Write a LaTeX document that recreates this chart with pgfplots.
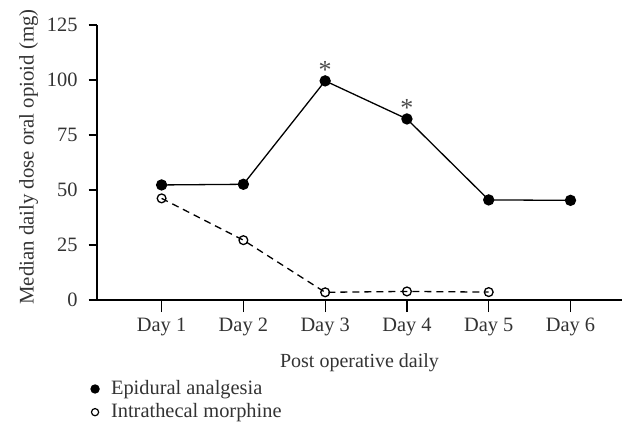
\documentclass[border=0pt]{standalone}
\usepackage{fontspec}
\setmainfont{Liberation Serif}
\usepackage{pgfplots}
\pgfplotsset{compat=1.18}

\begin{document}
\begin{tikzpicture}
\begin{axis}[
    scale only axis,
    width=262.5pt, height=137.5pt,
    axis x line=bottom, axis y line=left,
    axis line style={-, line width=0.6pt},
    xmin=0.21, xmax=6.63,
    ymin=0, ymax=125,
    xtick={1,...,6},
    xticklabels={Day 1,Day 2,Day 3,Day 4,Day 5,Day 6},
    ytick={0,25,50,75,100,125},
    tick align=outside,
    major tick length=4.2pt,
    xtick style={/pgfplots/major tick length=6pt},
    tick style={line width=0.6pt, black},
    /pgf/number format/assume math mode=true,
    font=\rmfamily\fontsize{10}{12}\selectfont,
    tick label style={font=\rmfamily\fontsize{10.2}{12}\selectfont, text=black!80},
    label style={text=black!80},
    xticklabel style={anchor=base, yshift=-11.5pt},
    yticklabel style={xshift=-2pt},
    xlabel={Post operative daily},
    xlabel style={at={(axis description cs:0.5,0)}, anchor=base, yshift=-33.5pt},
    ylabel={Median daily dose oral opioid (mg)},
    ylabel style={at={(axis description cs:-0.13,0.52)}, anchor=center, font=\rmfamily\fontsize{10.4}{12}\selectfont},
    legend style={at={(axis description cs:0,0)}, anchor=north west,
        xshift=-3.5pt, yshift=-38pt, draw=none, fill=none, inner sep=0pt,
        font=\rmfamily\fontsize{10.2}{12}\selectfont, text=black!80, row sep=-1pt},
    legend cell align=left,
]
\addplot[black, line width=0.65pt, mark=*, mark size=2.5pt,
    legend image code/.code={\draw[black, solid, fill=black] (0,0) circle (2pt); \path (0.2cm,0);}]
    coordinates {(1,52.3) (2,52.6) (3,99.6) (4,82.3) (5,45.5) (6,45.3)};
\addlegendentry{Epidural analgesia}
\addplot[black, line width=0.65pt, dash pattern=on 3.5pt off 2.5pt,
    mark=o, mark size=2.2pt, mark options={solid, fill=white},
    legend image code/.code={\draw[black, solid, fill=white, line width=0.6pt] (0,0) circle (1.8pt); \path (0.2cm,0);}]
    coordinates {(1,46.2) (2,27.2) (3,3.5) (4,3.9) (5,3.6)};
\addlegendentry{Intrathecal morphine}
\node[anchor=base, font=\rmfamily\fontsize{13}{13}\selectfont, text=black!70, inner sep=0pt, yshift=1pt] at (axis cs:3,99.6) {*};
\node[anchor=base, font=\rmfamily\fontsize{13}{13}\selectfont, text=black!70, inner sep=0pt, yshift=1pt] at (axis cs:4,82.3) {*};
\coordinate (bl) at (rel axis cs:0,0);
\coordinate (tr) at (rel axis cs:1,1);
\end{axis}
\pgfresetboundingbox
\path[use as bounding box] ([shift={(-48.5pt,-65.5pt)}]bl) rectangle ([shift={(1pt,12.5pt)}]tr);
\end{tikzpicture}
\end{document}
